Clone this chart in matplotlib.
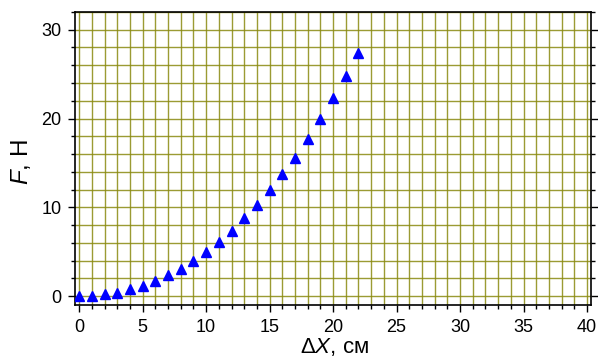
import numpy as np
import matplotlib
matplotlib.use("Agg")
import matplotlib.pyplot as plt
from matplotlib.ticker import MultipleLocator

dx = [0, 1, 2, 3, 4, 5, 6, 7, 8, 9, 10, 11, 12, 13, 14, 15, 16, 17, 18, 19, 20, 21, 22]
force = [0.05, 0.05, 0.2, 0.4, 0.75, 1.15, 1.7, 2.35, 3.1, 3.95, 4.95, 6.1, 7.35,
         8.8, 10.3, 11.9, 13.7, 15.6, 17.7, 19.9, 22.3, 24.8, 27.4]

plt.rcParams['font.family'] = ['Liberation Sans', 'DejaVu Sans']
plt.rcParams['mathtext.fontset'] = 'custom'
plt.rcParams['mathtext.it'] = 'Liberation Sans:italic'
plt.rcParams['mathtext.rm'] = 'Liberation Sans'

fig = plt.figure(figsize=(5.98, 3.62), dpi=100)
ax = fig.add_axes([0.126, 0.1575, 0.862, 0.8095])

ax.plot(dx, force, linestyle='none', marker='^', color='#0000ff', markersize=7, zorder=3)

ax.set_xlim(-0.3, 40.3)
ax.set_ylim(-1.0, 32)
ax.xaxis.set_major_locator(MultipleLocator(5))
ax.xaxis.set_minor_locator(MultipleLocator(1))
ax.yaxis.set_major_locator(MultipleLocator(10))
ax.yaxis.set_minor_locator(MultipleLocator(2))

ax.grid(True, which='both', color='#8a8a10', linewidth=1.0, alpha=0.85)
ax.set_axisbelow(True)

ax.tick_params(which='both', direction='out', labelsize=13, width=1, color='black', pad=5)
ax.tick_params(which='major', length=5)
ax.tick_params(which='minor', length=3)
ax.tick_params(axis='y', which='both', right=True)
for s in ax.spines.values():
    s.set_linewidth(1.2)

ax.set_xlabel(r'$\mathit{\Delta X}$, см', fontsize=16)
ax.set_ylabel(r'$\mathit{F}$, Н', fontsize=17.5)
ax.xaxis.set_label_coords(0.502, -0.105)
ax.yaxis.set_label_coords(-0.083, 0.488)

fig.savefig("out.png", dpi=100)
